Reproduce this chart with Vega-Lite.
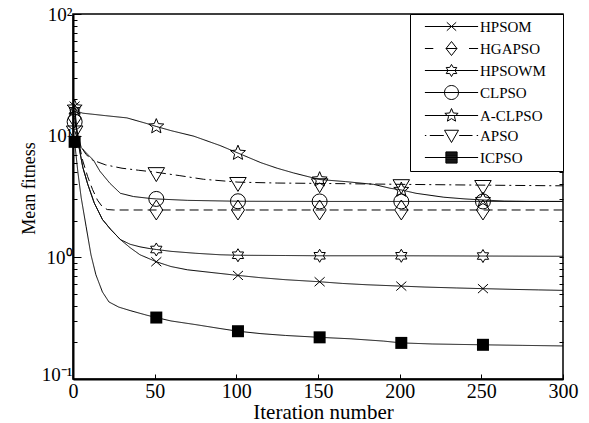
{
  "$schema": "https://vega.github.io/schema/vega-lite/v6.json",
  "width": 490,
  "height": 365,
  "autosize": {"type": "none"},
  "padding": {"left": 73, "top": 14, "right": 26, "bottom": 44},
  "background": "white",
  "config": {
    "view": {"stroke": "black", "strokeWidth": 1.5},
    "font": "Liberation Serif"
  },
  "data": {
    "values": [
      {"s": "HPSOM", "it": 1, "v": 17.5}, {"s": "HPSOM", "it": 3, "v": 9}, {"s": "HPSOM", "it": 6, "v": 5.5}, {"s": "HPSOM", "it": 9, "v": 4}, {"s": "HPSOM", "it": 13, "v": 2.8}, {"s": "HPSOM", "it": 18, "v": 2.05}, {"s": "HPSOM", "it": 23, "v": 1.7}, {"s": "HPSOM", "it": 29, "v": 1.4}, {"s": "HPSOM", "it": 35, "v": 1.2}, {"s": "HPSOM", "it": 41, "v": 1.05}, {"s": "HPSOM", "it": 47, "v": 0.97}, {"s": "HPSOM", "it": 51, "v": 0.92}, {"s": "HPSOM", "it": 60, "v": 0.84}, {"s": "HPSOM", "it": 70, "v": 0.79}, {"s": "HPSOM", "it": 85, "v": 0.75}, {"s": "HPSOM", "it": 101, "v": 0.71}, {"s": "HPSOM", "it": 115, "v": 0.68}, {"s": "HPSOM", "it": 130, "v": 0.655}, {"s": "HPSOM", "it": 151, "v": 0.63}, {"s": "HPSOM", "it": 165, "v": 0.61}, {"s": "HPSOM", "it": 180, "v": 0.595}, {"s": "HPSOM", "it": 201, "v": 0.58}, {"s": "HPSOM", "it": 215, "v": 0.57}, {"s": "HPSOM", "it": 235, "v": 0.56}, {"s": "HPSOM", "it": 251, "v": 0.553}, {"s": "HPSOM", "it": 270, "v": 0.545}, {"s": "HPSOM", "it": 285, "v": 0.54}, {"s": "HPSOM", "it": 300, "v": 0.535},

      {"s": "HGAPSO", "it": 1, "v": 14}, {"s": "HGAPSO", "it": 3, "v": 9.5}, {"s": "HGAPSO", "it": 6, "v": 6.2}, {"s": "HGAPSO", "it": 9, "v": 4.6}, {"s": "HGAPSO", "it": 12, "v": 3.6}, {"s": "HGAPSO", "it": 15, "v": 2.95}, {"s": "HGAPSO", "it": 18, "v": 2.6}, {"s": "HGAPSO", "it": 21, "v": 2.47}, {"s": "HGAPSO", "it": 25, "v": 2.45}, {"s": "HGAPSO", "it": 51, "v": 2.45}, {"s": "HGAPSO", "it": 101, "v": 2.45}, {"s": "HGAPSO", "it": 151, "v": 2.45}, {"s": "HGAPSO", "it": 201, "v": 2.45}, {"s": "HGAPSO", "it": 251, "v": 2.45}, {"s": "HGAPSO", "it": 300, "v": 2.45},

      {"s": "HPSOWM", "it": 1, "v": 16}, {"s": "HPSOWM", "it": 3, "v": 9}, {"s": "HPSOWM", "it": 6, "v": 5.5}, {"s": "HPSOWM", "it": 9, "v": 4}, {"s": "HPSOWM", "it": 13, "v": 2.8}, {"s": "HPSOWM", "it": 18, "v": 2.05}, {"s": "HPSOWM", "it": 23, "v": 1.7}, {"s": "HPSOWM", "it": 29, "v": 1.4}, {"s": "HPSOWM", "it": 35, "v": 1.28}, {"s": "HPSOWM", "it": 41, "v": 1.22}, {"s": "HPSOWM", "it": 47, "v": 1.18}, {"s": "HPSOWM", "it": 51, "v": 1.16}, {"s": "HPSOWM", "it": 60, "v": 1.12}, {"s": "HPSOWM", "it": 75, "v": 1.08}, {"s": "HPSOWM", "it": 90, "v": 1.05}, {"s": "HPSOWM", "it": 101, "v": 1.04}, {"s": "HPSOWM", "it": 130, "v": 1.035}, {"s": "HPSOWM", "it": 151, "v": 1.03}, {"s": "HPSOWM", "it": 201, "v": 1.03}, {"s": "HPSOWM", "it": 251, "v": 1.025}, {"s": "HPSOWM", "it": 300, "v": 1.02},

      {"s": "CLPSO", "it": 1, "v": 13}, {"s": "CLPSO", "it": 5, "v": 8}, {"s": "CLPSO", "it": 9, "v": 7}, {"s": "CLPSO", "it": 12.5, "v": 6.3}, {"s": "CLPSO", "it": 16.5, "v": 5.1}, {"s": "CLPSO", "it": 22.6, "v": 4.06}, {"s": "CLPSO", "it": 29, "v": 3.36}, {"s": "CLPSO", "it": 37, "v": 3.16}, {"s": "CLPSO", "it": 47, "v": 3.05}, {"s": "CLPSO", "it": 51, "v": 3.02}, {"s": "CLPSO", "it": 70, "v": 2.94}, {"s": "CLPSO", "it": 101, "v": 2.89}, {"s": "CLPSO", "it": 151, "v": 2.88}, {"s": "CLPSO", "it": 201, "v": 2.88}, {"s": "CLPSO", "it": 251, "v": 2.88}, {"s": "CLPSO", "it": 300, "v": 2.88},

      {"s": "A-CLPSO", "it": 1, "v": 17}, {"s": "A-CLPSO", "it": 3, "v": 15.8}, {"s": "A-CLPSO", "it": 6, "v": 15.3}, {"s": "A-CLPSO", "it": 12, "v": 15}, {"s": "A-CLPSO", "it": 20, "v": 14.6}, {"s": "A-CLPSO", "it": 33, "v": 14}, {"s": "A-CLPSO", "it": 45, "v": 12.6}, {"s": "A-CLPSO", "it": 51, "v": 11.9}, {"s": "A-CLPSO", "it": 60, "v": 11}, {"s": "A-CLPSO", "it": 74, "v": 9.9}, {"s": "A-CLPSO", "it": 90, "v": 8.3}, {"s": "A-CLPSO", "it": 101, "v": 7.2}, {"s": "A-CLPSO", "it": 115, "v": 6.0}, {"s": "A-CLPSO", "it": 125, "v": 5.4}, {"s": "A-CLPSO", "it": 135, "v": 4.94}, {"s": "A-CLPSO", "it": 151, "v": 4.36}, {"s": "A-CLPSO", "it": 167, "v": 4.19}, {"s": "A-CLPSO", "it": 184, "v": 3.98}, {"s": "A-CLPSO", "it": 194, "v": 3.7}, {"s": "A-CLPSO", "it": 201, "v": 3.58}, {"s": "A-CLPSO", "it": 210, "v": 3.36}, {"s": "A-CLPSO", "it": 227, "v": 3.12}, {"s": "A-CLPSO", "it": 240, "v": 3.02}, {"s": "A-CLPSO", "it": 251, "v": 2.96}, {"s": "A-CLPSO", "it": 264, "v": 2.9}, {"s": "A-CLPSO", "it": 280, "v": 2.88}, {"s": "A-CLPSO", "it": 300, "v": 2.88},

      {"s": "APSO", "it": 1, "v": 11}, {"s": "APSO", "it": 4, "v": 8.5}, {"s": "APSO", "it": 8, "v": 7}, {"s": "APSO", "it": 12, "v": 6.3}, {"s": "APSO", "it": 20, "v": 5.75}, {"s": "APSO", "it": 30, "v": 5.4}, {"s": "APSO", "it": 40, "v": 5.2}, {"s": "APSO", "it": 51, "v": 5.0}, {"s": "APSO", "it": 65, "v": 4.7}, {"s": "APSO", "it": 80, "v": 4.38}, {"s": "APSO", "it": 101, "v": 4.15}, {"s": "APSO", "it": 125, "v": 4.08}, {"s": "APSO", "it": 151, "v": 4.05}, {"s": "APSO", "it": 201, "v": 3.98}, {"s": "APSO", "it": 251, "v": 3.92}, {"s": "APSO", "it": 300, "v": 3.87},

      {"s": "ICPSO", "it": 1, "v": 8.9}, {"s": "ICPSO", "it": 3, "v": 5}, {"s": "ICPSO", "it": 5, "v": 3.1}, {"s": "ICPSO", "it": 8, "v": 1.8}, {"s": "ICPSO", "it": 11, "v": 1.05}, {"s": "ICPSO", "it": 14, "v": 0.72}, {"s": "ICPSO", "it": 18, "v": 0.52}, {"s": "ICPSO", "it": 22, "v": 0.43}, {"s": "ICPSO", "it": 28, "v": 0.39}, {"s": "ICPSO", "it": 35, "v": 0.365}, {"s": "ICPSO", "it": 45, "v": 0.335}, {"s": "ICPSO", "it": 51, "v": 0.32}, {"s": "ICPSO", "it": 60, "v": 0.3}, {"s": "ICPSO", "it": 75, "v": 0.28}, {"s": "ICPSO", "it": 90, "v": 0.26}, {"s": "ICPSO", "it": 101, "v": 0.247}, {"s": "ICPSO", "it": 115, "v": 0.236}, {"s": "ICPSO", "it": 130, "v": 0.228}, {"s": "ICPSO", "it": 151, "v": 0.22}, {"s": "ICPSO", "it": 170, "v": 0.214}, {"s": "ICPSO", "it": 190, "v": 0.205}, {"s": "ICPSO", "it": 201, "v": 0.198}, {"s": "ICPSO", "it": 220, "v": 0.194}, {"s": "ICPSO", "it": 251, "v": 0.191}, {"s": "ICPSO", "it": 275, "v": 0.189}, {"s": "ICPSO", "it": 300, "v": 0.187}
    ]
  },
  "encoding": {
    "x": {
      "field": "it", "type": "quantitative",
      "scale": {"domain": [0, 300], "nice": false},
      "axis": {
        "values": [0, 50, 100, 150, 200, 250, 300],
        "tickSize": -5, "tickColor": "black", "tickWidth": 1,
        "domainColor": "black", "domainWidth": 2,
        "labelFont": "Liberation Serif", "labelFontSize": 20, "labelColor": "black",
        "labelPadding": 7, "labelFlush": false, "labelOverlap": false,
        "grid": false,
        "title": "Iteration number", "titleFont": "Liberation Serif", "titleFontSize": 21,
        "titleFontWeight": "normal", "titleColor": "black", "titlePadding": 0,
        "titleX": 250
      }
    },
    "y": {
      "field": "v", "type": "quantitative",
      "scale": {"type": "log", "domain": [0.1, 100], "nice": false},
      "axis": {
        "orient": "left",
        "values": [0.1, 0.2, 0.3, 0.4, 0.5, 0.6, 0.7, 0.8, 0.9, 1, 2, 3, 4, 5, 6, 7, 8, 9, 10, 20, 30, 40, 50, 60, 70, 80, 90, 100],
        "labelExpr": "datum.value == 100 ? '10²' : datum.value == 10 ? '10¹' : datum.value == 1 ? '10⁰' : datum.value == 0.1 ? '10⁻¹' : ''",
        "tickSize": {"condition": {"test": "datum.value == 1 || datum.value == 10 || datum.value == 100 || datum.value == 0.1", "value": -8}, "value": -4},
        "labelOffset": {"condition": {"test": "datum.value == 0.1", "value": -5}, "value": 0},
        "tickColor": "black", "tickWidth": 1,
        "domainColor": "black", "domainWidth": 2,
        "labelFont": "Liberation Serif", "labelFontSize": 19, "labelColor": "black",
        "labelPadding": 9, "labelFlush": false, "labelOverlap": false,
        "grid": false,
        "title": "Mean fitness", "titleFont": "Liberation Serif", "titleFontSize": 18,
        "titleFontWeight": "normal", "titleColor": "black", "titlePadding": 3,
        "titleY": 174
      }
    }
  },
  "layer": [
    {
      "mark": {"type": "line", "color": "black", "strokeWidth": 1},
      "encoding": {
        "strokeDash": {
          "field": "s", "type": "nominal",
          "scale": {
            "domain": ["HPSOM", "HGAPSO", "HPSOWM", "CLPSO", "A-CLPSO", "APSO", "ICPSO"],
            "range": [[1, 0], [9, 5], [1, 0], [1, 0], [1, 0], [10, 4, 2, 4], [1, 0]]
          },
          "legend": null
        }
      }
    },
    {
      "transform": [{"filter": "indexof([1, 51, 101, 151, 201, 251], datum.it) >= 0 && datum.s !== 'ICPSO'"}],
      "mark": {"type": "point", "filled": false, "color": "black", "strokeWidth": 1, "size": 225, "opacity": 1},
      "encoding": {
        "y": {
          "field": "v", "type": "quantitative",
          "scale": {"type": "log", "domain": [0.1, 100], "nice": false},
          "axis": {
            "orient": "right",
            "values": [0.1, 0.2, 0.3, 0.4, 0.5, 0.6, 0.7, 0.8, 0.9, 1, 2, 3, 4, 5, 6, 7, 8, 9, 10, 20, 30, 40, 50, 60, 70, 80, 90, 100],
            "labels": false, "domain": false, "grid": false, "title": null,
            "tickSize": -4, "tickColor": "black", "tickWidth": 1
          }
        },
        "shape": {
          "field": "s", "type": "nominal",
          "scale": {
            "domain": ["HPSOM", "HGAPSO", "HPSOWM", "CLPSO", "A-CLPSO", "APSO"],
            "range": [
              "M-0.67,-0.6L0.67,0.6M-0.67,0.6L0.67,-0.6",
              "M0,-1.33L0.87,0L0,1.33L-0.87,0Z",
              "M0,-0.87L0.251,-0.435L0.753,-0.435L0.502,0L0.753,0.435L0.251,0.435L0,0.87L-0.251,0.435L-0.753,0.435L-0.502,0L-0.753,-0.435L-0.251,-0.435Z",
              "circle",
              "M0,-1.05L0.277,-0.381L0.999,-0.324L0.447,0.146L0.617,0.849L0,0.47L-0.617,0.849L-0.447,0.146L-0.999,-0.324L-0.277,-0.381Z",
              "M-1.1,-0.62L1.1,-0.62L0,1.24Z"
            ]
          },
          "legend": null
        }
      }
    },
    {
      "transform": [{"filter": "indexof([1, 51, 101, 151, 201, 251], datum.it) >= 0 && datum.s === 'ICPSO'"}],
      "mark": {"type": "square", "filled": true, "color": "black", "size": 144, "opacity": 1},
      "encoding": {
        "y": {
          "field": "v", "type": "quantitative",
          "scale": {"type": "log", "domain": [0.1, 100], "nice": false},
          "axis": null
        }
      }
    },
    {
      "transform": [{"filter": "datum.it == 300"}],
      "mark": {"type": "point", "filled": false, "color": "black", "strokeWidth": 1, "size": 196, "opacity": 0},
      "encoding": {
        "y": {
          "field": "v", "type": "quantitative",
          "scale": {"type": "log", "domain": [0.1, 100], "nice": false},
          "axis": null
        },
        "shape": {
          "field": "s", "type": "nominal",
          "scale": {
            "domain": ["HPSOM", "HGAPSO", "HPSOWM", "CLPSO", "A-CLPSO", "APSO", "ICPSO"],
            "range": [
              "M-3.8,0L3.8,0M-0.67,-0.6L0.67,0.6M-0.67,0.6L0.67,-0.6M14.8,0",
              "M-3.8,0L-2.6,0M2.5,0L3.8,0M-0.78,0L0.78,0M0,-1L0.78,0L0,1L-0.78,0ZM14.8,0",
              "M-3.8,0L3.8,0M0,-0.87L0.251,-0.435L0.753,-0.435L0.502,0L0.753,0.435L0.251,0.435L0,0.87L-0.251,0.435L-0.753,0.435L-0.502,0L-0.753,-0.435L-0.251,-0.435ZM14.8,0",
              "M-3.8,0L3.8,0M-1,0A1,1,0,1,0,1,0A1,1,0,1,0,-1,0ZM14.8,0",
              "M-3.8,0L3.8,0M0,-1L0.263,-0.362L0.949,-0.308L0.425,0.139L0.587,0.807L0,0.447L-0.587,0.807L-0.425,0.139L-0.949,-0.308L-0.263,-0.362ZM14.8,0",
              "M-3.8,0L-3.6,0M-3.1,0L-1.1,0M1.1,0L3.0,0M3.6,0L3.8,0M-1,-0.75L1,-0.75L0,1ZM14.8,0",
              "M-3.8,0L3.8,0M-0.8,-0.8L0.8,-0.8L0.8,0.8L-0.8,0.8ZM-0.8,-0.7L0.8,-0.7M-0.8,-0.6L0.8,-0.6M-0.8,-0.5L0.8,-0.5M-0.8,-0.4L0.8,-0.4M-0.8,-0.3L0.8,-0.3M-0.8,-0.2L0.8,-0.2M-0.8,-0.1L0.8,-0.1M-0.8,0.1L0.8,0.1M-0.8,0.2L0.8,0.2M-0.8,0.3L0.8,0.3M-0.8,0.4L0.8,0.4M-0.8,0.5L0.8,0.5M-0.8,0.6L0.8,0.6M-0.8,0.7L0.8,0.7M14.8,0"
            ]
          },
          "legend": {
            "orient": "top-right", "offset": 0, "title": null,
            "fillColor": "white", "strokeColor": "black",
            "padding": 5, "rowPadding": 4,
            "labelFont": "Liberation Serif", "labelFontSize": 15, "labelColor": "black",
            "symbolSize": 196, "symbolOffset": 29, "labelOffset": 21,
            "symbolOpacity": 1, "symbolStrokeColor": "black", "symbolStrokeWidth": 1,
            "symbolFillColor": "transparent"
          }
        }
      }
    }
  ],
  "resolve": {"axis": {"y": "independent"}, "scale": {"shape": "independent"}}
}
